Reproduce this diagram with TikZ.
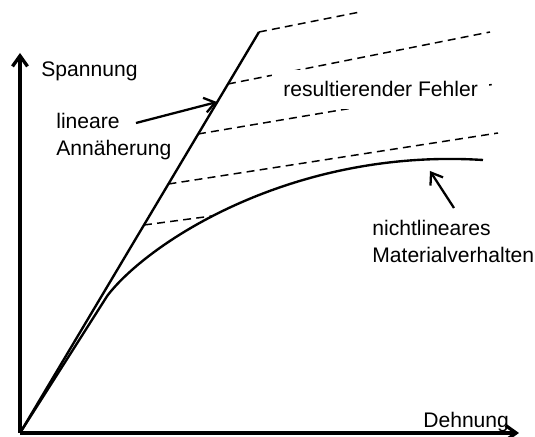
\documentclass[tikz,border=0pt]{standalone}
\usepackage{fontspec}
\setmainfont{Liberation Sans}
\usetikzlibrary{arrows.meta}

\begin{document}
\begin{tikzpicture}[>={Straight Barb[length=2.1mm,width=3mm]},
  axis/.style={line width=1.9pt, ->},
  approx/.style={line width=1.35pt},
  err/.style={line width=0.85pt, dash pattern=on 4.5pt off 3pt},
  pointer/.style={line width=1.3pt, ->},
  lbl/.style={font=\fontsize{12}{15.4}\selectfont, inner sep=0pt, align=left, anchor=base west}]
\useasboundingbox (-0.4,-0.08) rectangle (10.3,8.66);
% axes
\coordinate (O) at (0,0);
\coordinate (xend) at (9.98,0);
\coordinate (yend) at (0,7.6);
\draw[axis] (O) -- (yend);
\draw[axis] (O) -- (xend);
% linear approximation and material curve
\coordinate (top) at (4.78,8.02);
\coordinate (knee) at (1.75,2.75);
\coordinate (cend) at (9.26,5.46);
\draw[approx] (O) -- (top);
\draw[approx] (O) -- (knee) .. controls (2.6,3.85) and (5.5,5.7) .. (cend);
% error lines
\coordinate (s1) at (top);    \coordinate (e1) at (6.8,8.42);
\coordinate (s2) at (4.16,6.98); \coordinate (e2) at (9.4,8.02);
\coordinate (s3) at (3.56,5.98); \coordinate (e3) at (9.5,6.98);
\coordinate (s4) at (2.97,4.98); \coordinate (e4) at (9.56,6.0);
\coordinate (s5) at (2.48,4.16); \coordinate (e5) at (3.84,4.34);
\foreach \i in {1,...,5} \draw[err] (s\i) -- (e\i);
% labels (base = last line)
\node[lbl] (spann) at (0.42,7.12) {Spannung};
\node[lbl] (dehn) at (8.06,0.1) {Dehnung};
\node[lbl] (linear) at (0.72,5.54) {lineare\\Annäherung};
\node[lbl, fill=white, inner sep=0.23cm] (fehler) at (5.03,6.72) {resultierender Fehler};
\node[lbl] (nonlin) at (7.04,3.4) {nichtlineares\\Materialverhalten};
% pointers
\coordinate (p1a) at (2.32,6.2);  \coordinate (p1b) at (3.94,6.62);
\coordinate (p2a) at (8.68,4.5);  \coordinate (p2b) at (8.2,5.24);
\draw[pointer] (p1a) -- (p1b);
\draw[pointer] (p2a) -- (p2b);
\end{tikzpicture}
\end{document}
